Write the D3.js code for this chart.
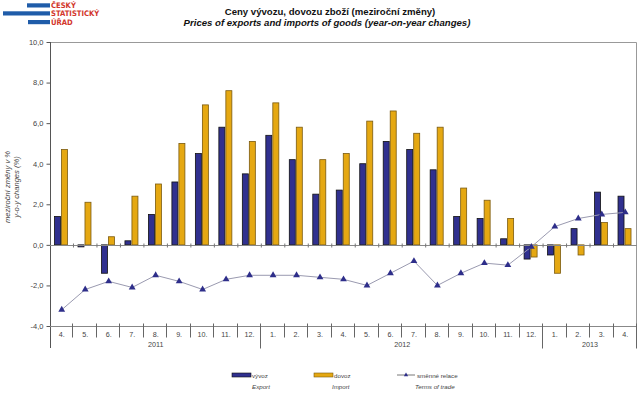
<!DOCTYPE html>
<html>
<head>
<meta charset="utf-8">
<script src="https://cdn.jsdelivr.net/npm/d3@7"></script>
<style>
  body { margin: 0; background: #fff; }
  svg { display: block; font-family: "Liberation Sans", Arial, sans-serif; }
</style>
</head>
<body>
<div id="chart"></div>
<script>
// month labels and the years they belong to
const months = ["4.", "5.", "6.", "7.", "8.", "9.", "10.", "11.", "12.",
  "1.", "2.", "3.", "4.", "5.", "6.", "7.", "8.", "9.", "10.", "11.", "12.",
  "1.", "2.", "3.", "4."];
const years = [
  { label: "2011", from: 0, to: 9 },
  { label: "2012", from: 9, to: 21 },
  { label: "2013", from: 21, to: 25 }
];

// year-on-year changes, %
const exportValues = [1.4, -0.1, -1.4, 0.2, 1.5, 3.1, 4.5, 5.8, 3.5,
  5.4, 4.2, 2.5, 2.7, 4.0, 5.1, 4.7, 3.7, 1.4, 1.3, 0.3, -0.7,
  -0.5, 0.8, 2.6, 2.4];
const importValues = [4.7, 2.1, 0.4, 2.4, 3.0, 5.0, 6.9, 7.6, 5.1,
  7.0, 5.8, 4.2, 4.5, 6.1, 6.6, 5.5, 5.8, 2.8, 2.2, 1.3, -0.6,
  -1.4, -0.5, 1.1, 0.8];
const termsOfTrade = [-3.2, -2.2, -1.8, -2.1, -1.5, -1.8, -2.2, -1.7, -1.5,
  -1.5, -1.5, -1.6, -1.7, -2.0, -1.4, -0.8, -2.0, -1.4, -0.9, -1.0, -0.1,
  0.9, 1.3, 1.5, 1.6];
const yTicks = [-4, -2, 0, 2, 4, 6, 8, 10];

const width = 640, height = 394;
const margin = { top: 42, left: 50, right: 3, bottom: 68 };
const plotBottom = height - margin.bottom;

const exportColor = "#30308f", importColor = "#e5a812", lineColor = "#9a9ab0";

const svg = d3.select("#chart").append("svg")
  .attr("width", width)
  .attr("height", height);

// logo
const logoBlue = "#1f5ca9", logoRed = "#d2352b";
[[27, 3.3], [3, 11.3], [28, 20]].forEach(([x, y]) => {
  svg.append("rect").attr("x", x).attr("y", y).attr("width", 50 - x).attr("height", 4.2)
    .attr("fill", logoBlue);
});
["ČESKÝ", "STATISTICKÝ", "ÚŘAD"].forEach((t, i) => {
  svg.append("text").attr("x", 51).attr("y", 8 + i * 8.4)
    .attr("font-size", 7.6).attr("font-weight", "bold").attr("fill", logoRed)
    .attr("font-family", "'Liberation Sans Narrow', 'DejaVu Sans Condensed', sans-serif")
    .text(t);
});

// titles
svg.append("text").attr("x", 330).attr("y", 14.5).attr("text-anchor", "middle")
  .attr("font-size", 9.6).attr("font-weight", "bold").attr("fill", "#111")
  .text("Ceny vývozu, dovozu zboží (meziroční změny)");
svg.append("text").attr("x", 327).attr("y", 25.5).attr("text-anchor", "middle")
  .attr("font-size", 9.6).attr("font-weight", "bold").attr("font-style", "italic").attr("fill", "#111")
  .text("Prices of exports and imports of goods (year-on-year changes)");

// scales
const x = d3.scaleBand()
  .domain(d3.range(months.length))
  .range([margin.left, width - margin.right]);
const xSub = d3.scaleBand()
  .domain(["export", "import"])
  .range([4, 18]);
const y = d3.scaleLinear()
  .domain([-4, 10])
  .range([plotBottom, margin.top]);

const bw = x.bandwidth();
const x0 = margin.left, x1 = width - margin.right;

// plot frame (top and right)
svg.append("path")
  .attr("d", `M${x0},${margin.top + 0.5}H${x1 - 0.5}V${plotBottom + 22}`)
  .attr("fill", "none").attr("stroke", "#999").attr("stroke-width", 1);

// y axis
const yAxis = svg.append("g")
  .attr("transform", `translate(${x0 + 0.5},0)`)
  .call(d3.axisLeft(y).tickValues(yTicks).tickSize(4).tickPadding(3)
    .tickFormat(d => d.toFixed(1).replace(".", ",")));
yAxis.select(".domain").remove();
yAxis.selectAll("line").attr("stroke", "#555");
yAxis.selectAll("text").attr("font-size", 7.5).attr("fill", "#444")
  .attr("font-family", "'Liberation Sans', Arial, sans-serif");
svg.append("line")
  .attr("x1", x0 + 0.5).attr("x2", x0 + 0.5)
  .attr("y1", margin.top).attr("y2", plotBottom + 22)
  .attr("stroke", "#555");

// y axis title
const yTitle = svg.append("text")
  .attr("transform", `translate(10,${(margin.top + plotBottom) / 2 + 3}) rotate(-90)`)
  .attr("text-anchor", "middle").attr("font-size", 7.6).attr("fill", "#444");
yTitle.append("tspan").attr("x", 0).attr("dy", 0).attr("font-style", "italic").text("meziroční  změny v %");
yTitle.append("tspan").attr("x", 0).attr("dy", 9).attr("font-style", "italic").text("y-o-y changes (%)");

// bars
const barData = months.map((m, i) => ({ i, export: exportValues[i], import: importValues[i] }));
const groups = svg.append("g").selectAll("g")
  .data(barData)
  .join("g")
  .attr("transform", d => `translate(${x(d.i)},0)`);
groups.selectAll("rect")
  .data(d => ["export", "import"].map(k => ({ k, v: d[k] })))
  .join("rect")
  .attr("x", d => xSub(d.k) + 0.5)
  .attr("y", d => y(Math.max(0, d.v)))
  .attr("width", xSub.bandwidth() - 1)
  .attr("height", d => Math.abs(y(d.v) - y(0)))
  .attr("fill", d => d.k === "export" ? exportColor : importColor)
  .attr("stroke", d => d.k === "export" ? "#111" : "#7a5a10")
  .attr("stroke-width", 0.8);

// zero line with small ticks
const y0 = Math.round(y(0)) + 0.5;
svg.append("line").attr("x1", x0).attr("x2", x1).attr("y1", y0).attr("y2", y0)
  .attr("stroke", "#888");
svg.append("g").selectAll("line")
  .data(d3.range(1, months.length))
  .join("line")
  .attr("x1", d => x(d)).attr("x2", d => x(d))
  .attr("y1", y0 - 2).attr("y2", y0 + 2)
  .attr("stroke", "#777");

// terms of trade
const line = d3.line()
  .x((d, i) => x(i) + bw / 2)
  .y(d => y(d));
svg.append("path")
  .datum(termsOfTrade)
  .attr("d", line)
  .attr("fill", "none").attr("stroke", lineColor).attr("stroke-width", 1);
svg.append("g").selectAll("path")
  .data(termsOfTrade)
  .join("path")
  .attr("transform", (d, i) => `translate(${x(i) + bw / 2},${y(d)})`)
  .attr("d", d3.symbol(d3.symbolTriangle, 20))
  .attr("fill", "#2e2e8a");

// category axis at the bottom
const yb = plotBottom + 0.5;
svg.append("line").attr("x1", x0).attr("x2", x1).attr("y1", yb).attr("y2", yb)
  .attr("stroke", "#888");
const yearEnds = years.map(d => d.to);
svg.append("g").selectAll("line")
  .data(d3.range(1, months.length + 1))
  .join("line")
  .attr("x1", d => Math.round(x0 + d * bw) - 0.5).attr("x2", d => Math.round(x0 + d * bw) - 0.5)
  .attr("y1", yb - 3)
  .attr("y2", d => yearEnds.includes(d) ? yb + 22 : yb + 11)
  .attr("stroke", "#666");
svg.append("g").selectAll("text")
  .data(months)
  .join("text")
  .attr("x", (d, i) => x(i) + bw / 2)
  .attr("y", yb + 10)
  .attr("text-anchor", "middle").attr("font-size", 7.2).attr("fill", "#444")
  .text(d => d);
svg.append("g").selectAll("text")
  .data(years)
  .join("text")
  .attr("x", d => x0 + (d.from + d.to) / 2 * bw)
  .attr("y", yb + 20)
  .attr("text-anchor", "middle").attr("font-size", 7.2).attr("fill", "#444")
  .text(d => d.label);

// legend
const legend = svg.append("g").attr("font-size", 6.2).attr("fill", "#444");
const legendItems = [
  { x: 232, cz: "vývoz", en: "Export", enX: 252, type: "export" },
  { x: 314, cz: "dovoz", en: "Import", enX: 332, type: "import" },
  { x: 397, cz: "směnné relace", en: "Terms of  trade", enX: 415, type: "line" }
];
legendItems.forEach(d => {
  if (d.type === "line") {
    legend.append("line").attr("x1", d.x).attr("x2", d.x + 18).attr("y1", 375).attr("y2", 375)
      .attr("stroke", "#555").attr("stroke-width", 0.8);
    legend.append("path").attr("transform", `translate(${d.x + 9},375)`)
      .attr("d", d3.symbol(d3.symbolTriangle, 8)).attr("fill", "#2e2e8a");
  } else {
    legend.append("rect").attr("x", d.x).attr("y", 373).attr("width", 19).attr("height", 4)
      .attr("fill", d.type === "export" ? exportColor : importColor)
      .attr("stroke", d.type === "export" ? "#111" : "#7a5a10").attr("stroke-width", 0.6);
  }
  legend.append("text").attr("x", d.x + 20).attr("y", 377.5).text(d.cz);
  legend.append("text").attr("x", d.enX).attr("y", 389).attr("font-style", "italic").text(d.en);
});
</script>
</body>
</html>
